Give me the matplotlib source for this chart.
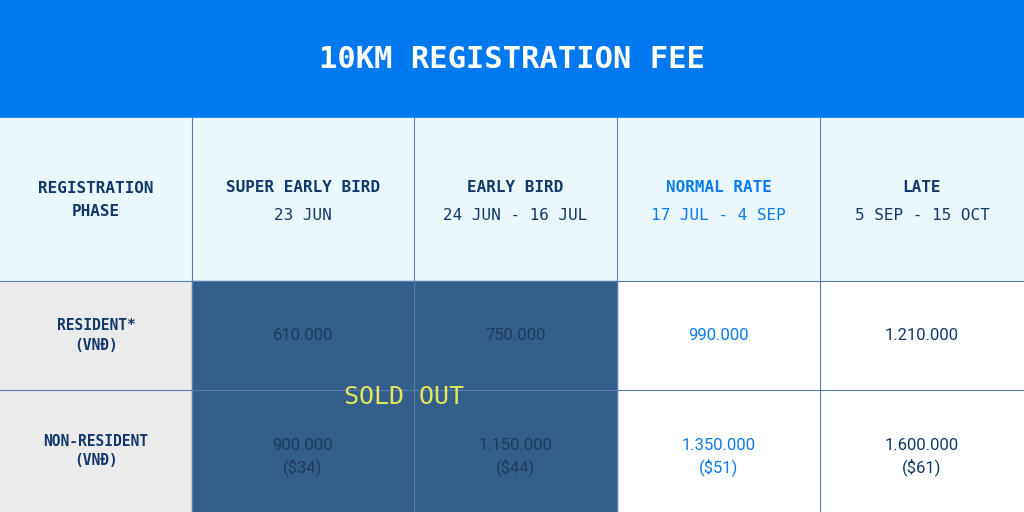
import matplotlib.pyplot as plt
from matplotlib.patches import Rectangle

title = "10KM REGISTRATION FEE"
phases = ["SUPER EARLY BIRD", "EARLY BIRD", "NORMAL RATE", "LATE"]
dates = ["23 JUN", "24 JUN - 16 JUL", "17 JUL - 4 SEP", "5 SEP - 15 OCT"]
row_labels = ["RESIDENT*\n(VNĐ)", "NON-RESIDENT\n(VNĐ)"]
resident = ["610.000", "750.000", "990.000", "1.210.000"]
non_resident = ["900.000\n($34)", "1.150.000\n($44)", "1.350.000\n($51)", "1.600.000\n($61)"]
sold_out = [True, True, False, False]

col_x = [0, 192, 414, 617, 820, 1024]
row_y = [118, 281, 390, 512]
navy = "#12386B"
blue = "#0A7BEF"
mono = "DejaVu Sans Mono"

fig = plt.figure(figsize=(10.24, 5.12), dpi=100)
ax = fig.add_axes([0, 0, 1, 1])
ax.set_xlim(0, 1024)
ax.set_ylim(512, 0)
ax.axis("off")

ax.add_patch(Rectangle((0, 0), 1024, 118, color="#0078F0"))
ax.text(512, 60, title, color="white", fontsize=22, fontweight="bold",
        family=mono, ha="center", va="center")
ax.add_patch(Rectangle((0, 118), 1024, 163, color="#EAF8FD"))
ax.add_patch(Rectangle((0, 281), 192, 231, color="#EBEBEB"))
ax.add_patch(Rectangle((192, 281), 832, 231, color="white"))

ax.text(96, 200, "REGISTRATION\nPHASE", color=navy, fontsize=11.5, fontweight="bold",
        family=mono, ha="center", va="center", linespacing=1.6)
for i, (p, d) in enumerate(zip(phases, dates)):
    cx = (col_x[i + 1] + col_x[i + 2]) / 2
    c = blue if p == "NORMAL RATE" else navy
    ax.text(cx, 187, p, color=c, fontsize=11.5, fontweight="bold", family=mono,
            ha="center", va="center")
    ax.text(cx, 215, d, color=c, fontsize=11.5, family=mono, ha="center", va="center")

for j, lab in enumerate(row_labels):
    cy = (row_y[j + 1] + row_y[j + 2]) / 2
    ax.text(96, cy, lab, color=navy, fontsize=10.5, fontweight="bold", family=mono,
            ha="center", va="center", linespacing=1.4)

first_sold = col_x[1]
last_sold = col_x[1 + sum(sold_out)]
ax.add_patch(Rectangle((first_sold, 281), last_sold - first_sold, 231, color="#335F8A", zorder=2))

for j, vals in enumerate([resident, non_resident]):
    cy = (row_y[j + 1] + row_y[j + 2]) / 2 + (0 if j == 0 else 6)
    for i, v in enumerate(vals):
        cx = (col_x[i + 1] + col_x[i + 2]) / 2
        c = "#1E3A5F" if sold_out[i] else (blue if phases[i] == "NORMAL RATE" else navy)
        ax.text(cx, cy, v, color=c, fontsize=12, family="Roboto", ha="center",
                va="center", linespacing=1.4, zorder=3)

ax.text((first_sold + last_sold) / 2, 397, "SOLD OUT", color="#E3E65A", fontsize=18,
        family=mono, ha="center", va="center", zorder=4)

for x in col_x[1:-1]:
    ax.plot([x, x], [118, 512], color="#5B7DB1", lw=0.8, zorder=2.5)
ax.plot([0, 1024], [281, 281], color="#5B7DB1", lw=0.8, zorder=2.5)
ax.plot([0, 1024], [390, 390], color="#5B7DB1", lw=0.8, zorder=2.5)

fig.savefig("out.png", dpi=100)
